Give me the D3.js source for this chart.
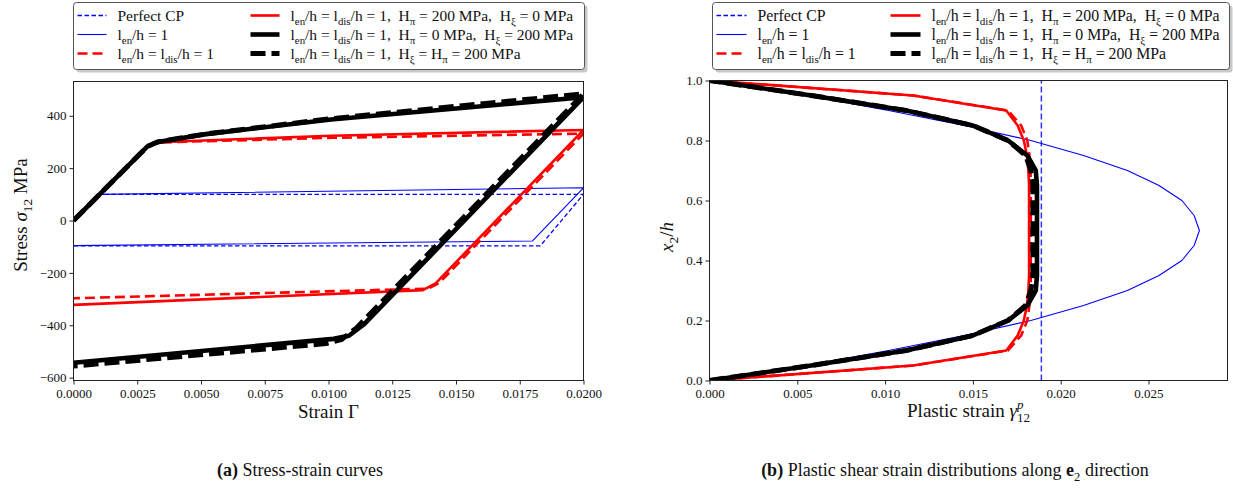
<!DOCTYPE html>
<html><head><meta charset="utf-8">
<script src="https://cdn.jsdelivr.net/npm/d3@7"></script>
<style>body{margin:0;background:#fff}svg{display:block}</style>
</head><body>
<svg id="c" width="1233" height="492"></svg>
<script>
// ================= DATA =================
// (a) stress-strain: tick values
const strainTicks = [0, 0.0025, 0.005, 0.0075, 0.01, 0.0125, 0.015, 0.0175, 0.02];
const stressTicks = [-600, -400, -200, 0, 200, 400];
// (a) curves as [strain, stress (MPa)]
const ssPerfectCP   = [[0,0],[0.00101,100],[0.02,100],[0.0183,-97],[0,-97]];
const ssEn1         = [[0,0],[0.00101,100],[0.02,125],[0.0180,-78],[0,-96]];
const ssRedDashed   = [[0,0],[0.0029,283],[0.0033,298],[0.0101,316],[0.02,332],[0.01435,-238],[0.0139,-260],[0,-297]];
const ssRedSolid    = [[0,0],[0.0029,283],[0.0033,299],[0.0101,324],[0.02,346],[0.0142,-240],[0.0137,-266],[0,-322]];
const ssBlackSolid  = [[0,0],[0.0029,283],[0.0033,300],[0.0052,330],[0.0101,386],[0.02,471],[0.0114,-396],[0.0108,-440],[0.0102,-452],[0,-543]];
const ssBlackDashed = [[0,0],[0.0029,283],[0.0033,300],[0.0052,331],[0.0101,389],[0.02,484],[0.0111,-410],[0.0105,-455],[0.0099,-470],[0,-556]];

// (b) plastic strain profiles
const plasticTicks = [0, 0.005, 0.01, 0.015, 0.02, 0.025];
const heightTicks  = [0, 0.2, 0.4, 0.6, 0.8, 1.0];
const heightPts    = [0,0.05,0.1,0.15,0.2,0.25,0.3,0.35,0.4,0.45,0.5,0.55,0.6,0.65,0.7,0.75,0.8,0.85,0.9,0.95,1.0];
const gpPerfectCP  = 0.0189;
const gpEn1        = [0,0.0055,0.0102,0.0145,0.0183,0.0213,0.0238,0.0256,0.0269,0.0276,0.0279,0.0276,0.0269,0.0256,0.0238,0.0213,0.0183,0.0145,0.0102,0.0055,0];
const gpRedDashed  = [0,0.0116,0.0170,0.01775,0.0181,0.01822,0.01828,0.0183,0.0183,0.0183,0.0183,0.0183,0.0183,0.0183,0.01828,0.01822,0.0181,0.01775,0.0170,0.0116,0];
const gpRedSolid   = [0,0.0116,0.0169,0.01755,0.0179,0.01808,0.01816,0.0182,0.0182,0.0182,0.0182,0.0182,0.0182,0.0182,0.01816,0.01808,0.0179,0.01755,0.0169,0.0116,0];
const gpBlackSolid = [0,0.0058,0.0112,0.0150,0.0170,0.0181,0.01858,0.01865,0.01865,0.01865,0.01865,0.01865,0.01865,0.01865,0.01858,0.0181,0.0170,0.0150,0.0112,0.0058,0];
const gpBlackDashed= [0,0.0058,0.0112,0.0150,0.0170,0.0180,0.0183,0.01842,0.01842,0.01842,0.01842,0.01842,0.01842,0.01842,0.0183,0.0180,0.0170,0.0150,0.0112,0.0058,0];

// legend labels (column-wise, matching plot order)
const legendLabels = [
  "Perfect CP",
  "l_{en}/h = 1",
  "l_{en}/h = l_{dis}/h = 1",
  "l_{en}/h = l_{dis}/h = 1,  H_{π} = 200 MPa,  H_{ξ} = 0 MPa",
  "l_{en}/h = l_{dis}/h = 1,  H_{π} = 0 MPa,  H_{ξ} = 200 MPa",
  "l_{en}/h = l_{dis}/h = 1,  H_{ξ} = H_{π} = 200 MPa"
];

// ================= STYLE =================
const FONT = "'Liberation Serif','Times New Roman',serif";
const styles = [
  {color:"#0000ff", w:1.3, dash:"4.5,2.5"},
  {color:"#0000ff", w:1.1, dash:null},
  {color:"#ff0000", w:2.6, dash:"10,5"},
  {color:"#ff0000", w:2.6, dash:null},
  {color:"#000000", w:4.6, dash:null},
  {color:"#000000", w:5,   dash:"15,6"}
];

const svg = d3.select("#c");

// rich text: _{sub}, ^{sup}, $italic$, *bold*
function rich(sel, str, size) {
  sel.style("white-space", "pre");
  const re = /(_\{[^}]*\}|\^\{[^}]*\}|\$[^$]*\$|\*[^*]*\*)/g;
  const parts = str.split(re).filter(s => s.length);
  let shift = 0;
  parts.forEach(p => {
    let t = p, target = 0, fs = size, style = null, weight = null;
    if (p.startsWith("_{")) { t = p.slice(2, -1); target = size * 0.28; fs = size * 0.7; }
    else if (p.startsWith("^{")) { t = p.slice(2, -1); target = -size * 0.4; fs = size * 0.7; }
    else if (p.startsWith("$")) { t = p.slice(1, -1); style = "italic"; }
    else if (p.startsWith("*")) { t = p.slice(1, -1); weight = "bold"; }
    const ts = sel.append("tspan").attr("dy", (target - shift).toFixed(2)).attr("font-size", fs).text(t);
    if (style) ts.attr("font-style", style);
    if (weight) ts.attr("font-weight", weight);
    shift = target;
  });
  return sel;
}

function panel(box, x, y, xTicks, yTicks, xFmt, yFmt, id) {
  const g = svg.append("g");
  g.append("clipPath").attr("id", id).append("rect")
    .attr("x", box.l).attr("y", box.t).attr("width", box.r - box.l).attr("height", box.b - box.t);
  const ax = g.append("g").attr("transform", `translate(0,${box.b})`)
    .call(d3.axisBottom(x).tickValues(xTicks).tickFormat(xFmt).tickSize(4).tickPadding(4).tickSizeOuter(0));
  const ay = g.append("g").attr("transform", `translate(${box.l},0)`)
    .call(d3.axisLeft(y).tickValues(yTicks).tickFormat(yFmt).tickSize(4).tickPadding(3).tickSizeOuter(0));
  [ax, ay].forEach(a => {
    a.select(".domain").remove();
    a.selectAll("text").attr("font-family", FONT).attr("font-size", 13).attr("fill", "#111");
    a.selectAll("line").attr("stroke", "#222").attr("stroke-width", 1);
  });
  const plot = g.append("g").attr("clip-path", `url(#${id})`);
  return {g, plot};
}

function frame(box) {
  svg.append("rect").attr("x", box.l).attr("y", box.t)
    .attr("width", box.r - box.l).attr("height", box.b - box.t)
    .attr("fill", "none").attr("stroke", "#222").attr("stroke-width", 1);
}

function drawLine(plot, pts, st, x, y) {
  const p = plot.append("path").datum(pts)
    .attr("d", d3.line().x(d => x(d[0])).y(d => y(d[1])))
    .attr("fill", "none").attr("stroke", st.color).attr("stroke-width", st.w)
    .attr("stroke-linejoin", "round");
  if (st.dash) p.attr("stroke-dasharray", st.dash);
  return p;
}

function legend(x0, y0, w, h, col2x, handleLen, fs) {
  const g = svg.append("g");
  g.append("rect").attr("x", x0 + 3).attr("y", y0 + 3).attr("width", w).attr("height", h)
    .attr("rx", 3).attr("fill", "#9a9a9a").attr("opacity", 0.55);
  g.append("rect").attr("x", x0).attr("y", y0).attr("width", w).attr("height", h)
    .attr("rx", 3).attr("fill", "#fff").attr("stroke", "#555").attr("stroke-width", 1);
  legendLabels.forEach((lab, i) => {
    const col = Math.floor(i / 3), row = i % 3;
    const hx = x0 + (col === 0 ? 4 : col2x);
    const yy = y0 + 13 + row * 19;
    const st = styles[i];
    const ln = g.append("line").attr("x1", hx).attr("x2", hx + handleLen).attr("y1", yy).attr("y2", yy)
      .attr("stroke", st.color).attr("stroke-width", st.w);
    if (st.dash) ln.attr("stroke-dasharray", st.dash);
    const t = g.append("text").attr("x", hx + handleLen + 11).attr("y", yy + 5)
      .attr("font-family", FONT).attr("font-size", fs).attr("fill", "#111");
    rich(t, lab, fs);
  });
}

const minus = v => (v < 0 ? "\u2212" + Math.abs(v) : String(v));

// ================= PANEL (a) =================
const boxA = {l: 73.5, r: 583.5, t: 81.5, b: 380.5};
const xA = d3.scaleLinear().domain([0, 0.02]).range([boxA.l, boxA.r]);
const yA = d3.scaleLinear().domain([-611, 531]).range([boxA.b, boxA.t]);
const pa = panel(boxA, xA, yA, strainTicks, stressTicks, d => d.toFixed(4), minus, "clipA");
[ssPerfectCP, ssEn1, ssRedDashed, ssRedSolid, ssBlackSolid, ssBlackDashed]
  .forEach((s, i) => drawLine(pa.plot, s, styles[i], xA, yA));
frame(boxA);

svg.append("text").attr("x", (boxA.l + boxA.r) / 2).attr("y", 418).attr("text-anchor", "middle")
  .attr("font-family", FONT).attr("font-size", 19).attr("fill", "#111").text("Strain \u0393");
rich(svg.append("text").attr("transform", "translate(27,215) rotate(-90)").attr("text-anchor", "middle")
  .attr("font-family", FONT).attr("font-size", 19).attr("fill", "#111"), "Stress $σ$_{12} MPa", 19);

// ================= PANEL (b) =================
const boxB = {l: 709.5, r: 1227.5, t: 80.5, b: 380.5};
const xB = d3.scaleLinear().domain([0, 0.0295]).range([boxB.l, boxB.r]);
const yB = d3.scaleLinear().domain([0, 1]).range([boxB.b, boxB.t]);
const pb = panel(boxB, xB, yB, plasticTicks, heightTicks, d => d.toFixed(3), d => d.toFixed(1), "clipB");
const toPts = arr => arr.map((v, i) => [v, heightPts[i]]);
drawLine(pb.plot, [[gpPerfectCP, 0], [gpPerfectCP, 1]], {color:"#3333ff", w:1.5, dash:"6,3"}, xB, yB);
[gpEn1, gpRedDashed, gpRedSolid, gpBlackSolid, gpBlackDashed]
  .forEach((s, i) => drawLine(pb.plot, toPts(s), styles[i + 1], xB, yB));
frame(boxB);

// x label with stacked super/subscript
{
  const t = svg.append("text").attr("x", 0).attr("y", 417)
    .attr("font-family", FONT).attr("font-size", 19).attr("fill", "#111");
  t.append("tspan").text("Plastic strain ");
  t.append("tspan").attr("font-style", "italic").text("\u03b3");
  const sp = t.append("tspan").attr("font-size", 13).attr("font-style", "italic").attr("dy", -8).text("p");
  const pw = sp.node().getComputedTextLength();
  t.append("tspan").attr("font-size", 13).attr("dx", -pw).attr("dy", 13).text("12");
  const w = t.node().getBBox().width;
  t.attr("x", (boxB.l + boxB.r) / 2 - w / 2);
}
rich(svg.append("text").attr("transform", "translate(673,237) rotate(-90)").attr("text-anchor", "middle")
  .attr("font-family", FONT).attr("font-size", 19).attr("fill", "#111"), "$x$_{2}/$h$", 19);

// ================= LEGENDS =================
legend(73.5, 2.5, 511, 67, 177, 29, 15.5);
legend(712.5, 2.5, 517, 67, 178, 30, 15.8);

// ================= CAPTIONS =================
rich(svg.append("text").attr("x", 300).attr("y", 476).attr("text-anchor", "middle")
  .attr("font-family", FONT).attr("font-size", 18).attr("fill", "#111"), "*(a)* Stress-strain curves", 18);
rich(svg.append("text").attr("x", 955).attr("y", 476).attr("text-anchor", "middle")
  .attr("font-family", FONT).attr("font-size", 18).attr("fill", "#111"),
  "*(b)* Plastic shear strain distributions along *e*_{2} direction", 18);
</script>
</body></html>
